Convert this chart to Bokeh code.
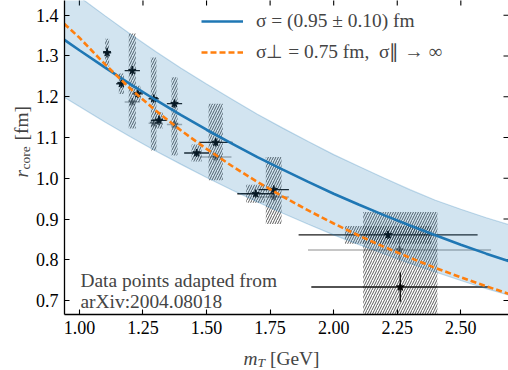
import numpy as np
from bokeh.plotting import figure
from bokeh.layouts import column, row
from bokeh.models import (Label, Legend, LegendItem, FixedTicker, Range1d,
                          PrintfTickFormatter)
from bokeh.embed import file_html
from bokeh.resources import INLINE

# ---------------- data ----------------
# theory curves r_core(m_T)
curve_m = [0.94, 1.0, 1.1, 1.2, 1.3, 1.4, 1.5, 1.6, 1.7, 1.8, 1.9, 2.0,
           2.1, 2.2, 2.3, 2.4, 2.5, 2.6, 2.7]
sigma_mid = [1.340, 1.314, 1.272, 1.231, 1.192, 1.155, 1.119, 1.085, 1.052,
             1.021, 0.991, 0.962, 0.935, 0.909, 0.884, 0.860, 0.837, 0.815, 0.794]
sigma_hi = [1.474, 1.445, 1.399, 1.354, 1.311, 1.270, 1.231, 1.194, 1.157,
            1.123, 1.090, 1.058, 1.029, 1.000, 0.972, 0.946, 0.924, 0.903, 0.884]
sigma_lo = [1.199, 1.176, 1.138, 1.102, 1.067, 1.034, 1.002, 0.971, 0.942,
            0.914, 0.887, 0.861, 0.837, 0.814, 0.791, 0.770, 0.749, 0.729, 0.711]
perp_r = [1.379, 1.345, 1.280, 1.220, 1.166, 1.117, 1.072, 1.030, 0.991,
          0.955, 0.921, 0.889, 0.859, 0.831, 0.805, 0.780, 0.757, 0.735, 0.714]

# data set 1 (small systematic boxes)
pp_m = [1.109, 1.165, 1.230, 1.313, 1.461, 1.693, 2.214]
pp_r = [1.308, 1.232, 1.207, 1.142, 1.062, 0.962, 0.861]
pp_m_err = [0.016, 0.020, 0.020, 0.032, 0.049, 0.072, 0.352]
pp_r_err = [0.012, 0.010, 0.010, 0.012, 0.010, 0.010, 0.010]
pp_sys_m = [0.008, 0.010, 0.010, 0.015, 0.020, 0.037, 0.170]
pp_sys_r = [0.034, 0.025, 0.020, 0.020, 0.021, 0.022, 0.022]

# data set 2 (tall systematic boxes)
pl_m = [1.208, 1.292, 1.374, 1.536, 1.764, 2.262]
pl_r = [1.264, 1.195, 1.183, 1.088, 0.972, 0.733]
pl_m_err = [0.030, 0.020, 0.030, 0.066, 0.060, 0.350]
pl_r_err = [0.012, 0.010, 0.010, 0.010, 0.010, 0.036]
pl_sys_m = [0.014, 0.011, 0.012, 0.028, 0.031, 0.146]
pl_sys_lo = [1.122, 1.068, 1.056, 0.995, 0.888, 0.550]
pl_sys_hi = [1.355, 1.296, 1.248, 1.183, 1.052, 0.917]

# data set 3 (grey, alternative values)
alt_m = [1.208, 1.292, 1.374, 1.536, 1.764, 2.259]
alt_r = [1.187, 1.135, 1.132, 1.052, 0.954, 0.824]
alt_m_err = [0.030, 0.020, 0.030, 0.062, 0.060, 0.360]
alt_r_err = [0.010, 0.010, 0.010, 0.010, 0.010, 0.030]

x_ticks = [1.00, 1.25, 1.50, 1.75, 2.00, 2.25, 2.50]
y_ticks = [0.7, 0.8, 0.9, 1.0, 1.1, 1.2, 1.3, 1.4]
x_lim = (0.9414, 2.6875)
y_lim = (0.6657, 1.4361)

legend_labels = ["σ = (0.95 ± 0.10) fm", "σ⊥ = 0.75 fm,  σ∥ → ∞"]
note_lines = ["Data points adapted from", "arXiv:2004.08018"]

SERIF = "Liberation Serif"
FS = "19.4px"
FS_SUB = "13.5px"

# ---------------- main figure ----------------
p = figure(width=476, height=342, output_backend="svg", toolbar_location=None,
           x_range=Range1d(*x_lim), y_range=Range1d(*y_lim),
           min_border_left=29, min_border_right=0, min_border_top=0,
           min_border_bottom=28)
p.outline_line_color = None
p.grid.visible = False

for ax in (p.xaxis[0], p.yaxis[0]):
    ax.axis_line_width = 1.3
    ax.major_tick_in = 5
    ax.major_tick_out = 0
    ax.minor_tick_line_color = None
    ax.major_tick_line_width = 1.1
    ax.major_label_text_font = SERIF
    ax.major_label_text_font_size = "18px"
    ax.major_label_text_color = "black"
p.xaxis.ticker = FixedTicker(ticks=x_ticks)
p.yaxis.ticker = FixedTicker(ticks=y_ticks)
p.xaxis.formatter = PrintfTickFormatter(format="%.2f")
p.yaxis.formatter = PrintfTickFormatter(format="%.1f")
p.xaxis.major_label_standoff = 6
p.yaxis.major_label_standoff = 6

# inward ticks on the (cropped) top and right frame edges
p.scatter(x=[x_lim[1]] * len(y_ticks), y=y_ticks, marker="dash", size=10,
          line_color="black", line_width=1.1)
p.scatter(x=x_ticks, y=[y_lim[1]] * len(x_ticks), marker="dash", angle=np.pi / 2,
          size=10, line_color="black", line_width=1.1)

# systematic boxes (hatched)
hatch_kw = dict(fill_alpha=0, line_alpha=0, hatch_pattern="/", hatch_color="#222222",
                hatch_alpha=0.75, hatch_scale=5, hatch_weight=1)
pm, pr, psm, psr = map(np.array, (pp_m, pp_r, pp_sys_m, pp_sys_r))
p.quad(left=pm - psm, right=pm + psm, bottom=pr - psr, top=pr + psr, **hatch_kw)
lm, lsm = np.array(pl_m), np.array(pl_sys_m)
p.quad(left=lm - lsm, right=lm + lsm, bottom=pl_sys_lo, top=pl_sys_hi, **hatch_kw)


def points(m, r, me, re, color, alpha):
    m, r, me, re = map(np.array, (m, r, me, re))
    p.segment(x0=m - me, x1=m + me, y0=r, y1=r, line_color=color,
              line_alpha=alpha, line_width=1.4)
    p.segment(x0=m, x1=m, y0=r - re, y1=r + re, line_color=color,
              line_alpha=alpha, line_width=1.4)
    p.scatter(m, r, marker="star", size=8, fill_color=color, line_color=color,
              fill_alpha=alpha, line_alpha=alpha)


points(alt_m, alt_r, alt_m_err, alt_r_err, "black", 0.3)
points(pp_m, pp_r, pp_m_err, pp_r_err, "black", 0.9)
points(pl_m, pl_r, pl_m_err, pl_r_err, "black", 0.9)

# uncertainty band on top of the data
p.varea(x=curve_m, y1=sigma_lo, y2=sigma_hi, fill_color="#1f77b4", fill_alpha=0.2)
p.line(curve_m, sigma_hi, line_color="#1f77b4", line_alpha=0.25, line_width=1.2)
p.line(curve_m, sigma_lo, line_color="#1f77b4", line_alpha=0.25, line_width=1.2)

blue = p.line(curve_m, sigma_mid, line_color="#1f77b4", line_width=2.6)
orange = p.line(curve_m, perp_r, line_color="#ff7f0e", line_width=2.6,
                line_dash="6 3")

legend = Legend(items=[LegendItem(label=legend_labels[0], renderers=[blue]),
                       LegendItem(label=legend_labels[1], renderers=[orange])],
                location=(137, 251), orientation="vertical",
                label_text_font=SERIF, label_text_font_size=FS,
                glyph_width=42, glyph_height=20, label_height=20,
                label_standoff=13, spacing=8, padding=0, margin=0,
                border_line_color=None, background_fill_alpha=0)
p.add_layout(legend)

p.add_layout(Label(x=16, y=34, x_units="screen", y_units="screen", text=note_lines[0],
                   text_font=SERIF, text_font_size=FS, text_baseline="alphabetic"))
p.add_layout(Label(x=16, y=13, x_units="screen", y_units="screen", text=note_lines[1],
                   text_font=SERIF, text_font_size=FS, text_baseline="alphabetic"))


def text_panel(w, h):
    f = figure(width=w, height=h, output_backend="svg", toolbar_location=None,
               x_range=Range1d(0, 1), y_range=Range1d(0, 1),
               x_axis_location=None, y_axis_location=None,
               min_border_left=0, min_border_right=0, min_border_top=0,
               min_border_bottom=0)
    f.outline_line_color = None
    f.grid.visible = False
    return f


# y axis label: r_core [fm]
yp = text_panel(32, 342)
yb = 137
yp.add_layout(Label(x=21, y=yb, x_units="screen", y_units="screen", text="r",
                    angle=np.pi / 2, text_font=SERIF, text_font_style="italic",
                    text_font_size=FS, text_baseline="alphabetic"))
yp.add_layout(Label(x=24.5, y=yb + 8, x_units="screen", y_units="screen", text="core",
                    angle=np.pi / 2, text_font=SERIF, text_font_size=FS_SUB,
                    text_baseline="alphabetic"))
yp.add_layout(Label(x=21, y=yb + 37, x_units="screen", y_units="screen", text="[fm]",
                    angle=np.pi / 2, text_font=SERIF, text_font_size=FS,
                    text_baseline="alphabetic"))

# x axis label: m_T [GeV]
xp = text_panel(508, 28)
xl = 243
xp.add_layout(Label(x=xl, y=12, x_units="screen", y_units="screen", text="m",
                    text_font=SERIF, text_font_style="italic", text_font_size=FS,
                    text_baseline="alphabetic"))
xp.add_layout(Label(x=xl + 14, y=8, x_units="screen", y_units="screen", text="T",
                    text_font=SERIF, text_font_style="italic", text_font_size=FS_SUB,
                    text_baseline="alphabetic"))
xp.add_layout(Label(x=xl + 26.5, y=12, x_units="screen", y_units="screen", text="[GeV]",
                    text_font=SERIF, text_font_size=FS, text_baseline="alphabetic"))

layout = column(row(yp, p, spacing=0), xp, spacing=0)
open("out.html", "w").write(file_html(layout, INLINE))
